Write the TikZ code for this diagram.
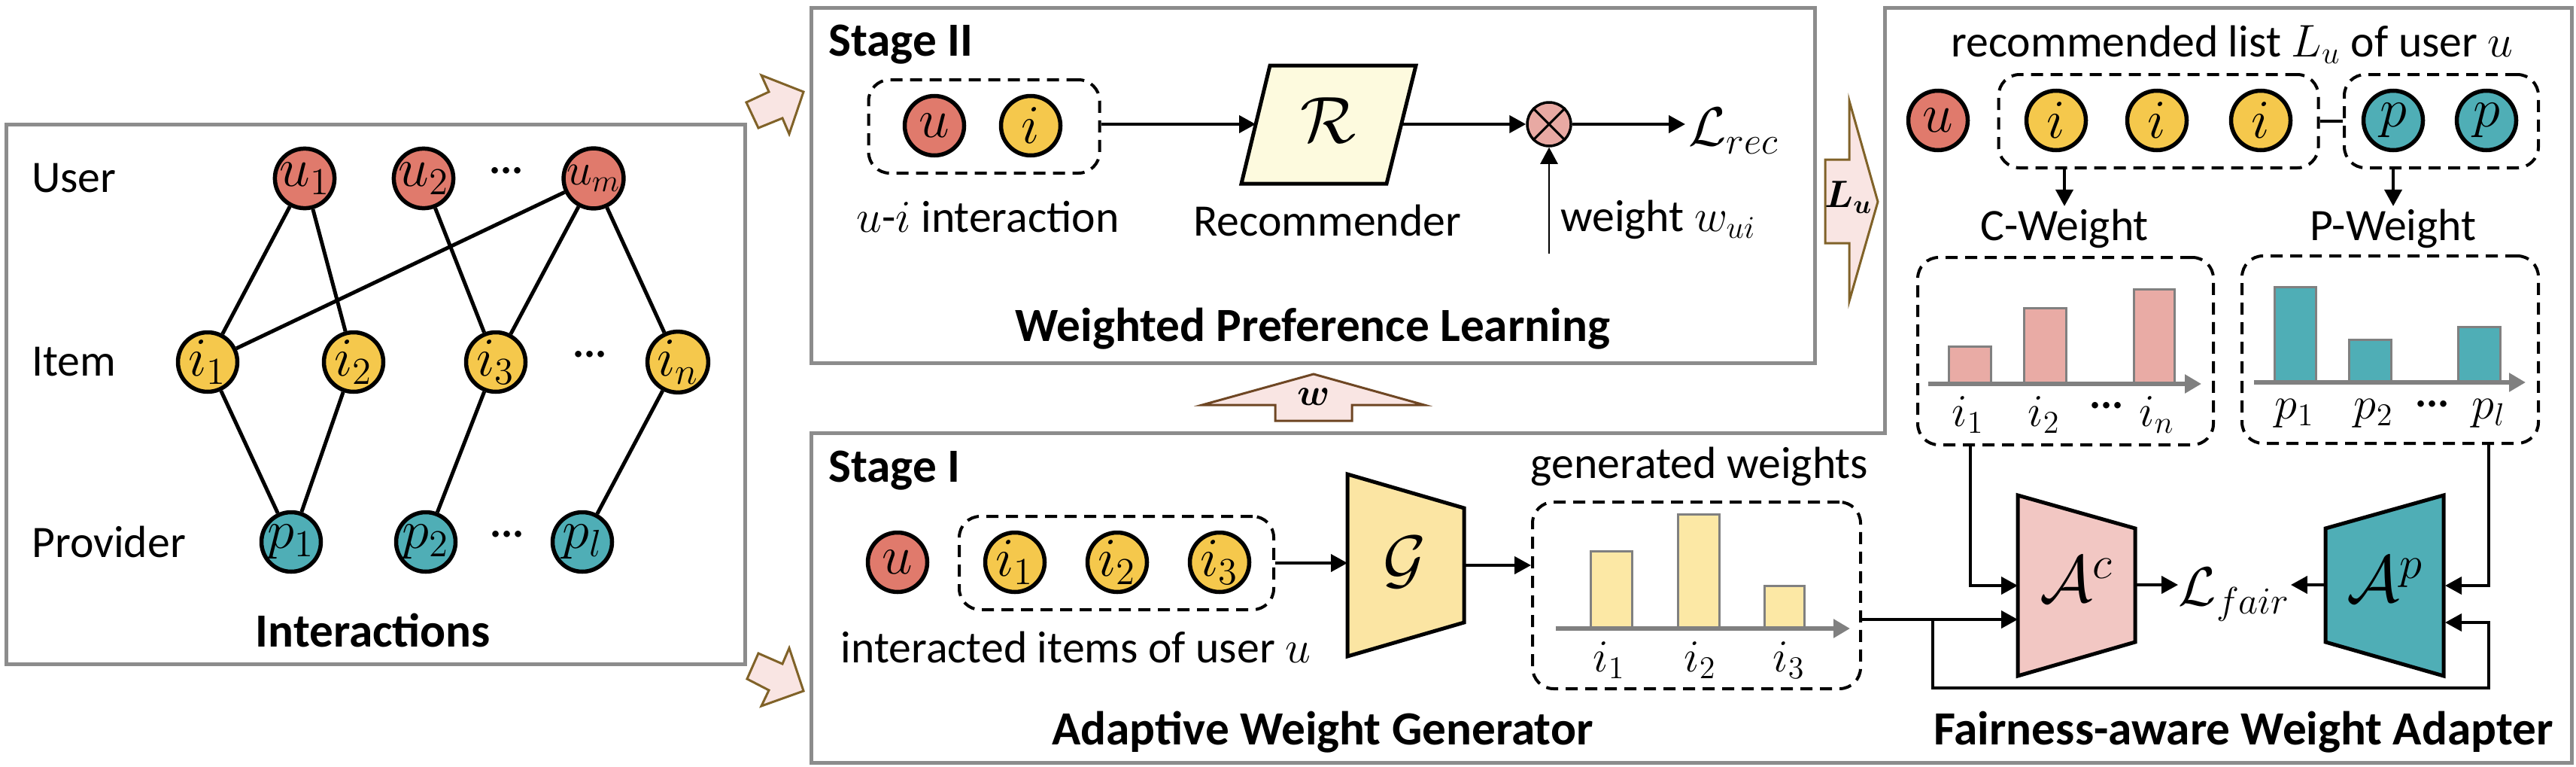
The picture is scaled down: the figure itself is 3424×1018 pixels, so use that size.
\documentclass[tikz,border=0pt]{standalone}
\usepackage{amsmath}
\usepackage[no-math]{fontspec}
\setmainfont{Carlito}
\usetikzlibrary{arrows.meta}
\definecolor{usercol}{RGB}{224,122,108}
\definecolor{itemcol}{RGB}{245,200,76}
\definecolor{provcol}{RGB}{79,174,182}
\definecolor{panelgray}{RGB}{140,140,140}
\definecolor{bargray}{RGB}{128,128,128}
\definecolor{fatfill}{RGB}{249,229,227}
\definecolor{fatline}{RGB}{128,98,40}
\definecolor{fatline2}{RGB}{110,70,35}
\definecolor{reccol}{RGB}{253,250,222}
\definecolor{gencol}{RGB}{251,229,163}
\definecolor{accol}{RGB}{242,199,195}
\definecolor{otcol}{RGB}{232,169,163}
\definecolor{cbarcol}{RGB}{233,171,165}
\definecolor{gbarcol}{RGB}{252,232,165}
\tikzset{
  panel/.style={draw=panelgray, line width=0.5mm},
  nd/.style={circle, draw=black, line width=0.55mm, minimum size=7.9mm, inner sep=0pt, font=\fontsize{20}{20}\selectfont},
  usr/.style={nd, fill=usercol},
  itm/.style={nd, fill=itemcol},
  prv/.style={nd, fill=provcol},
  grp/.style={draw=black, line width=0.4mm, dash pattern=on 1.6mm off 1mm, rounded corners=2.8mm},
  lbl/.style={inner sep=1pt, font=\fontsize{17}{20}\selectfont},
  ttl/.style={inner sep=1pt, font=\fontsize{18}{20}\selectfont\bfseries},
  big/.style={inner sep=1pt, font=\fontsize{25}{25}\selectfont},
  lss/.style={inner sep=1pt, font=\fontsize{21}{21}\selectfont},
  arr/.style={draw=black, line width=0.4mm, -{Triangle[length=2.2mm,width=2.3mm]}},
  link/.style={draw=black, line width=0.5mm},
  block/.style={draw=black, line width=0.5mm},
  wbar/.style={draw=bargray, line width=0.3mm},
  xaxis/.style={draw=bargray, line width=0.6mm, -{Triangle[length=2.2mm,width=2.4mm]}},
  fat/.style={draw=fatline, fill=fatfill, line width=0.3mm},
}

\begin{document}
\begin{tikzpicture}[x=0.1mm,y=-0.1mm]
    \useasboundingbox (0,0) rectangle (3424,1018);
    \fill[white] (0,0) rectangle (3424,1018);

    \draw[panel] (8,165) rectangle (990,882);
    \node[lbl, anchor=west] (userlbl) at (38,237) {User};
    \node[lbl, anchor=west] (itemlbl) at (38,481) {Item};
    \node[lbl, anchor=west] (provlbl) at (38,720) {Provider};
    \node[usr] (u1) at (405,237) {$u_1$};
    \node[usr] (u2) at (563,237) {$u_2$};
    \node[lbl] (udots) at (673,233) {···};
    \node[usr, font=\fontsize{17}{17}\selectfont] (um) at (789,237) {$u_m$};
    \node[itm] (i1) at (276,481) {$i_1$};
    \node[itm] (i2) at (470,481) {$i_2$};
    \node[itm] (i3) at (659,481) {$i_3$};
    \node[lbl] (idots) at (784,477) {···};
    \node[itm] (in) at (901,481) {$i_n$};
    \node[prv] (p1) at (387,720) {$p_1$};
    \node[prv] (p2) at (566,720) {$p_2$};
    \node[lbl] (pdots) at (674,716) {···};
    \node[prv] (pl) at (774,720) {$p_l$};
    \draw[link] (u1) -- (i1);
    \draw[link] (u1) -- (i2);
    \draw[link] (u2) -- (i3);
    \draw[link] (um) -- (i1);
    \draw[link] (um) -- (i3);
    \draw[link] (um) -- (in);
    \draw[link] (i1) -- (p1);
    \draw[link] (i2) -- (p1);
    \draw[link] (i3) -- (p2);
    \draw[link] (in) -- (pl);
    \node[ttl] (interlbl) at (496,837) {Interactions};

    \draw[fat] (992,136) -- (1022,122) -- (1012,100) -- (1068,122) -- (1049,178) -- (1040,157) -- (1008,170) -- cycle;
    \draw[fat] (1008,868) -- (1040,882) -- (1049,861) -- (1068,918) -- (1012,938) -- (1022,917) -- (993,902) -- cycle;

    \draw[panel] (1078,10) rectangle (2412,482);
    \node[ttl, anchor=base west] (st2) at (1097,75) {Stage II};
    \node[usr] (ua) at (1242,167) {$u$};
    \node[itm] (ia) at (1370,167) {$i$};
    \node[grp, minimum width=30.7mm, minimum height=12.4mm] (uibox) at (1308,168) {};
    \draw[block, fill=reccol] (1688,87) -- (1882,87) -- (1843,244) -- (1650,244) -- cycle;
    \node[big] (rec) at (1766,160) {$\mathcal{R}$};
    \coordinate (recin) at (1669,165);
    \coordinate (recout) at (1863,165);
    \node[circle, draw=black, line width=0.35mm, fill=otcol, minimum size=5.8mm, inner sep=0pt] (ot) at (2059,165) {};
    \draw[line width=0.3mm] (ot.45) -- (ot.225);
    \draw[line width=0.3mm] (ot.135) -- (ot.315);
    \node[lss, anchor=west] (lrec) at (2240,174) {$\mathcal{L}_{rec}$};
    \coordinate (wsrc) at (2059,337);
    \draw[arr] (uibox.east |- recin) -- (recin);
    \draw[arr] (recout) -- (ot);
    \draw[arr] (ot) -- (ot -| lrec.west);
    \draw[arr, line width=0.25mm] (wsrc) -- (ot);
    \node[lbl] (uilbl) at (1313,288) {$u$-$i$ interaction};
    \node[lbl] (reclbl) at (1764,293) {Recommender};
    \node[lbl] (wlbl) at (2204,292) {weight $w_{ui}$};
    \node[ttl] (wpl) at (1745,437) {Weighted Preference Learning};

    \draw[fat, draw=fatline2] (1695,559) -- (1695,538) -- (1598,538) -- (1746,497) -- (1893,538) -- (1797,538) -- (1797,559) -- cycle;
    \node[inner sep=0pt, font=\fontsize{15}{15}\selectfont] (wlab) at (1746,527) {$\boldsymbol{w}$};
    \draw[fat] (2426,212) -- (2458,212) -- (2458,134) -- (2496,268) -- (2458,400) -- (2458,323) -- (2426,323) -- cycle;
    \node[inner sep=0pt, font=\fontsize{14}{14}\selectfont] (lulab) at (2457,262) {$\boldsymbol{L_u}$};

    \draw[panel] (1078,575) -- (2505,575) -- (2505,10) -- (3418,10) -- (3418,1013) -- (1078,1013) -- cycle;
    \node[ttl, anchor=base west] (st1) at (1097,640) {Stage I};
    \node[usr] (ub) at (1193,747) {$u$};
    \node[itm] (ib1) at (1349,747) {$i_1$};
    \node[itm] (ib2) at (1485,747) {$i_2$};
    \node[itm] (ib3) at (1621,747) {$i_3$};
    \node[grp, minimum width=41.8mm, minimum height=12.4mm] (itbox) at (1484,748) {};
    \node[lbl] (itlbl) at (1430,860) {interacted items of user $u$};
    \draw[block, fill=gencol] (1791,630) -- (1946,675) -- (1946,827) -- (1791,872) -- cycle;
    \node[big] (gen) at (1867,747) {$\mathcal{G}$};
    \coordinate (genin) at (1791,748);
    \coordinate (genout) at (1946,751);
    \draw[arr] (itbox.east |- genin) -- (genin);
    \node[lbl] (gwlbl) at (2259,620) {generated weights};
    \node[grp, minimum width=43.6mm, minimum height=24.8mm] (genbox) at (2255,791) {};
    \draw[arr] (genout) -- (genout -| genbox.west);
    \draw[wbar, fill=gbarcol] (2114,835) rectangle (2169,732);
    \draw[wbar, fill=gbarcol] (2230,835) rectangle (2285,683);
    \draw[wbar, fill=gbarcol] (2345,835) rectangle (2398,778);
    \draw[xaxis] (2068,835) -- (2459,835);
    \node[lbl] (gl1) at (2139,877) {$i_1$};
    \node[lbl] (gl2) at (2260,877) {$i_2$};
    \node[lbl] (gl3) at (2378,877) {$i_3$};
    \node[ttl] (awg) at (1758,973) {Adaptive Weight Generator};

    \node[lbl] (reclist) at (2967,59) {recommended list $L_u$ of user $u$};
    \node[usr] (uc) at (2576,160) {$u$};
    \node[itm] (ic1) at (2733,160) {$i$};
    \node[itm] (ic2) at (2867,160) {$i$};
    \node[itm] (ic3) at (3005,160) {$i$};
    \node[prv] (pc1) at (3181,160) {$p$};
    \node[prv] (pc2) at (3305,160) {$p$};
    \node[grp, minimum width=42.5mm, minimum height=12.4mm] (clist) at (2869,161) {};
    \node[grp, minimum width=25.8mm, minimum height=12.4mm] (plist) at (3245,161) {};
    \draw[link, line width=0.4mm] (clist.east) -- (plist.west);
    \node[lbl] (cwlbl) at (2744,304) {C-Weight};
    \node[lbl] (pwlbl) at (3181,304) {P-Weight};
    \draw[arr] (cwlbl.north |- clist.south) -- (cwlbl.north);
    \draw[arr] (pwlbl.north |- plist.south) -- (pwlbl.north);
    \node[grp, minimum width=39.3mm, minimum height=24.9mm] (cbox) at (2745.5,466.5) {};
    \node[grp, minimum width=39.4mm, minimum height=24.9mm] (pbox) at (3177,464.5) {};
    \draw[wbar, fill=cbarcol] (2590,510) rectangle (2646,460);
    \draw[wbar, fill=cbarcol] (2690,510) rectangle (2746,409);
    \draw[wbar, fill=cbarcol] (2836,510) rectangle (2890,384);
    \draw[xaxis] (2563,510) -- (2926,510);
    \draw[wbar, fill=provcol] (3023,508) rectangle (3078,381);
    \draw[wbar, fill=provcol] (3122,508) rectangle (3178,451);
    \draw[wbar, fill=provcol] (3267,508) rectangle (3323,434);
    \draw[xaxis] (2996,508) -- (3357,508);
    \node[lbl] (cl1) at (2616,551) {$i_1$};
    \node[lbl] (cl2) at (2717,551) {$i_2$};
    \node[lbl] (cldots) at (2800,545) {···};
    \node[lbl] (cln) at (2867,551) {$i_n$};
    \node[lbl] (pl1) at (3050,549) {$p_1$};
    \node[lbl] (pl2) at (3155,549) {$p_2$};
    \node[lbl] (pldots) at (3233,543) {···};
    \node[lbl] (pln) at (3308,549) {$p_l$};

    \draw[block, fill=accol] (2682,658) -- (2838,702) -- (2838,853) -- (2682,898) -- cycle;
    \node[big] (ac) at (2760,770) {$\mathcal{A}^c$};
    \draw[block, fill=provcol] (3091,702) -- (3248,658) -- (3248,898) -- (3091,853) -- cycle;
    \node[big] (ap) at (3170,770) {$\mathcal{A}^p$};
    \node[lss, inner sep=0pt] (lfair) at (2970,790) {$\mathcal{L}_{fair}$};
    \coordinate (acin1) at (2682,778);
    \coordinate (acin2) at (2682,823);
    \coordinate (apin1) at (3250,778);
    \coordinate (apin2) at (3250,827);
    \coordinate (acout) at (2838,777);
    \coordinate (apout) at (3091,777);
    \coordinate (fork) at (2569,823);
    \coordinate (loopl) at (2569,914);
    \coordinate (loopr) at (3308,914);
    \draw[arr] ([xshift=-12.65mm]cbox.south) |- (acin1);
    \draw[arr] ([xshift=13.1mm]pbox.south) |- (apin1);
    \draw[arr] (genbox.east |- fork) -- (acin2);
    \draw[arr] (fork) -- (loopl) -- (loopr) |- (apin2);
    \draw[arr] (acout) -- (acout -| lfair.west);
    \draw[arr] (apout) -- (apout -| lfair.east);
    \node[ttl] (fwa) at (2982,973) {Fairness-aware Weight Adapter};
\end{tikzpicture}
\end{document}
